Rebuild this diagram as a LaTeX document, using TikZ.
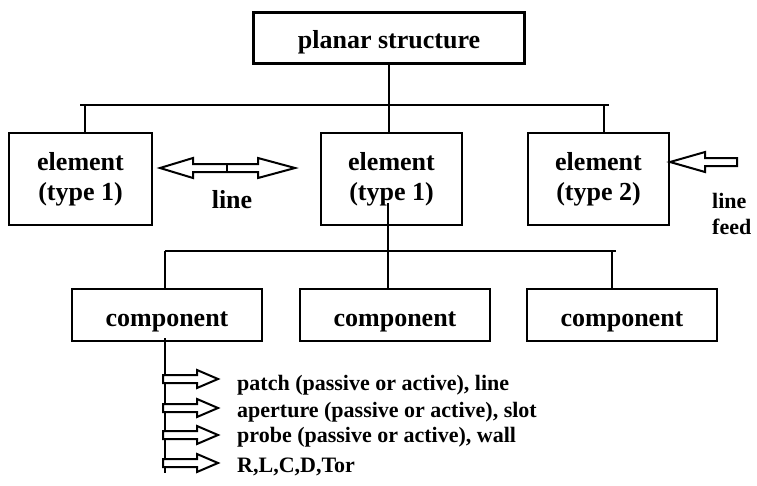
\documentclass[tikz,border=0pt]{standalone}
\usepackage{fontspec}
\setmainfont{Liberation Serif}
\begin{document}
\begin{tikzpicture}[x=1pt,y=-1pt,
  box/.style={draw, line width=2.4pt, inner sep=0pt, align=center,
    font=\bfseries\fontsize{26}{30}\selectfont},
  wire/.style={line width=2.4pt},
  blockarrow/.style={draw, line width=2pt, fill=white, line join=miter},
  big/.style={font=\bfseries\fontsize{26}{30}\selectfont, inner sep=0pt},
  small/.style={font=\bfseries\fontsize{22}{26}\selectfont, inner sep=0pt},
  rarrow/.pic={\draw[blockarrow] (0,-4) -- (34,-4) -- (34,-9) -- (55,0)
      -- (34,9) -- (34,4) -- (0,4) -- cycle;}]
\useasboundingbox (0,0) rectangle (757,485);

% boxes
\node[box, minimum width=271, minimum height=51, text height=20, text depth=0]
  (top) at (389,38) {planar structure};
\node[box, minimum width=143, minimum height=92] (e1) at (80.5,179) {element\\(type 1)};
\node[box, minimum width=141, minimum height=92] (e2) at (391.5,179) {element\\(type 1)};
\node[box, minimum width=141, minimum height=92] (e3) at (598.5,179) {element\\(type 2)};
\tikzset{compbox/.style={box, minimum width=190, minimum height=52,
  text height=22, text depth=0}}
\node[compbox] (c1) at (167,315) {component};
\node[compbox] (c2) at (395,315) {component};
\node[compbox] (c3) at (622,315) {component};

% upper bus
\coordinate (busL) at (80,105);
\coordinate (busR) at (609,105);
\coordinate (d1) at (85,105);
\coordinate (d2) at (389,105);
\coordinate (d3) at (604,105);
\draw[wire] (busL) -- (busR);
\draw[wire] (top.south) -- (d2);
\draw[wire] (d1) -- (d1 |- e1.north);
\draw[wire] (d2) -- (d2 |- e2.north);
\draw[wire] (d3) -- (d3 |- e3.north);

% lower bus
\coordinate (s2) at (388,203);
\coordinate (b1) at (165,251);
\coordinate (b3) at (612,251);
\coordinate (bR) at (616,251);
\draw[wire] (b1) -- (bR);
\draw[wire] (s2) -- (s2 |- c2.north);
\draw[wire] (b1) -- (b1 |- c1.north);
\draw[wire] (b3) -- (b3 |- c3.north);

% component stem
\coordinate (s1) at (165,338);
\coordinate (s1end) at (165,473);
\draw[wire] (s1) -- (s1end);

% line between elements
\draw[blockarrow] (160,168) -- (193,158) -- (193,164) -- (258,164) -- (258,158)
  -- (295,168) -- (258,178) -- (258,172) -- (193,172) -- (193,178) -- cycle;
\draw[line width=2.6pt] (227,164) -- (227,172);
\node[big, anchor=base] (lbl) at (232,208) {line};

% feed into element type 2
\draw[blockarrow] (670,162) -- (705,152) -- (705,158) -- (737,158) -- (737,166)
  -- (705,166) -- (705,172) -- cycle;
\node[small, anchor=base west] (f1) at (712,208) {line};
\node[small, anchor=base west] (f2) at (712,234) {feed};

% component variants
\pic at (163,379) {rarrow};
\pic at (163,408) {rarrow};
\pic at (163,435) {rarrow};
\pic at (163,463) {rarrow};
\node[small, anchor=base west] (t1) at (237,390) {patch (passive or active), line};
\node[small, anchor=base west] (t2) at (237,417) {aperture (passive or active), slot};
\node[small, anchor=base west] (t3) at (237,442) {probe (passive or active), wall};
\node[small, anchor=base west] (t4) at (237,472) {R,L,C,D,Tor};
\end{tikzpicture}
\end{document}
